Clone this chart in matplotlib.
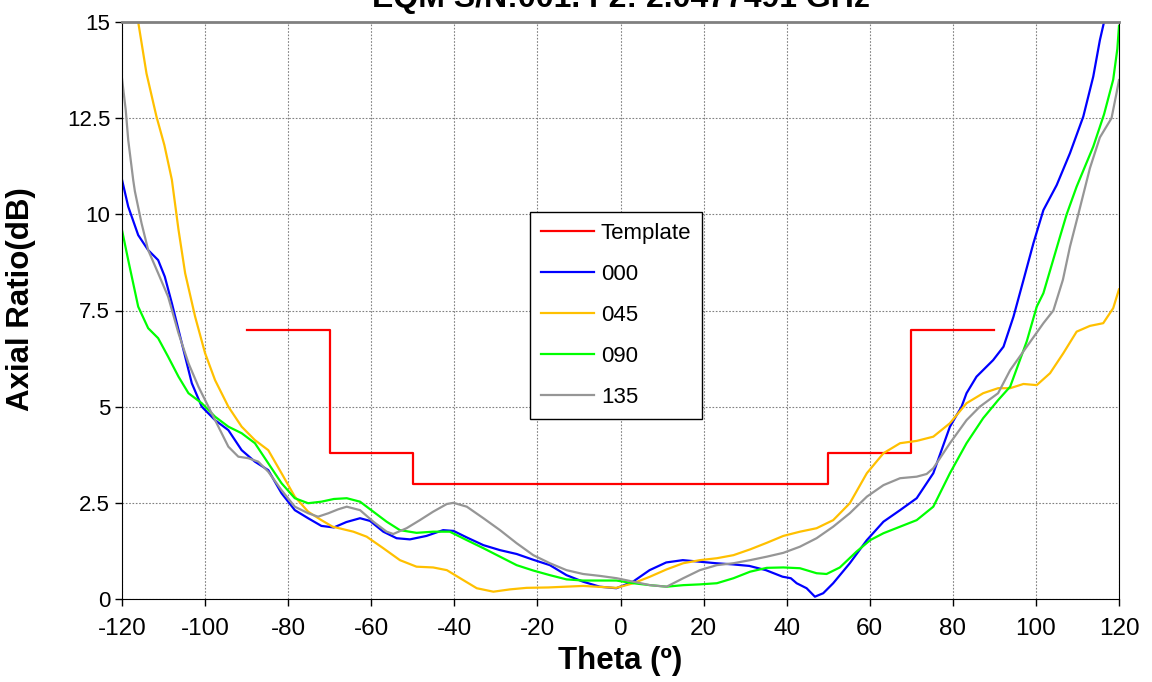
import matplotlib
matplotlib.use("Agg")
import matplotlib.pyplot as plt

plt.rcParams["font.family"] = ["Liberation Sans", "DejaVu Sans"]
plt.rcParams["axes.unicode_minus"] = False

TITLE = "EQM S/N:001. F2: 2.0477491 GHz"

# red template mask (step)
TPL_THETA = [-90, -70, -70, -50, -50, 50, 50, 70, 70, 90]
TPL_AR = [7.0, 7.0, 3.8, 3.8, 3.0, 3.0, 3.8, 3.8, 7.0, 7.0]

TH_000 = [-120, -118.5, -116.1, -113.7, -111.3, -109.7, -108.0, -105.6, -103.2, -100.8,
          -97.6, -94.4, -91.2, -88.0, -84.8, -81.6, -78.4, -75.2, -72.0, -69.0,
          -66.0, -62.7, -60.3, -57.1, -53.9, -50.7, -46.7, -42.7, -40.2, -37.0,
          -33.0, -29.0, -25.0, -21.0, -17.0, -13.0, -9.0, -5.0, -1.0, 3.0,
          7.0, 11.0, 15.0, 19.0, 23.0, 27.0, 31.0, 35.0, 39.0, 41.0,
          42.4, 44.8, 46.8, 48.8, 51.2, 55.2, 59.3, 63.3, 67.3, 71.3,
          75.3, 79.3, 82.1, 83.3, 85.7, 89.7, 92.2, 94.6, 97.0, 99.4,
          101.8, 105.0, 108.2, 111.4, 113.8, 115.4, 116.4, 117.0]
AR_000 = [10.9, 10.2, 9.46, 9.07, 8.81, 8.38, 7.69, 6.65, 5.61, 5.0,
          4.65, 4.39, 3.87, 3.57, 3.35, 2.75, 2.31, 2.1, 1.9, 1.86,
          2.0, 2.1, 2.03, 1.75, 1.58, 1.55, 1.64, 1.79, 1.77, 1.6,
          1.4, 1.27, 1.17, 1.02, 0.88, 0.62, 0.45, 0.32, 0.28, 0.45,
          0.75, 0.95, 1.01, 0.97, 0.93, 0.9, 0.86, 0.75, 0.58, 0.54,
          0.41, 0.28, 0.06, 0.15, 0.41, 0.93, 1.53, 2.01, 2.31, 2.62,
          3.27, 4.48, 5.0, 5.35, 5.78, 6.21, 6.56, 7.34, 8.29, 9.25,
          10.11, 10.76, 11.59, 12.54, 13.58, 14.53, 15.0, 15.4]

TH_045 = [-117.0, -116.1, -114.1, -111.7, -109.8, -108.0, -106.4, -104.8, -102.4,
          -100.0, -97.6, -94.4, -91.2, -88.0, -84.8, -81.6, -78.4, -75.2, -72.0,
          -69.3, -64.3, -61.1, -57.1, -53.1, -49.1, -45.1, -41.8, -38.6, -34.6,
          -30.6, -26.6, -22.6, -17.4, -9.0, -1.0, 3.1, 7.1, 11.1, 15.1,
          19.1, 23.2, 27.2, 31.2, 35.2, 39.2, 43.2, 47.2, 51.2, 55.2,
          59.3, 63.3, 67.3, 71.3, 75.3, 79.3, 83.3, 87.3, 90.9, 93.8,
          97.0, 100.2, 103.4, 106.6, 109.8, 113.0, 116.2, 118.6, 120.0]
AR_045 = [15.6, 15.0, 13.66, 12.54, 11.8, 10.9, 9.6, 8.47, 7.34,
          6.39, 5.69, 5.0, 4.48, 4.13, 3.87, 3.27, 2.66, 2.27, 2.05,
          1.88, 1.75, 1.62, 1.32, 1.01, 0.84, 0.82, 0.75, 0.54, 0.28,
          0.19, 0.25, 0.29, 0.3, 0.34, 0.29, 0.41, 0.58, 0.77, 0.93,
          1.01, 1.06, 1.14, 1.29, 1.46, 1.64, 1.75, 1.84, 2.05, 2.49,
          3.27, 3.79, 4.05, 4.11, 4.22, 4.57, 5.09, 5.35, 5.48, 5.48,
          5.59, 5.56, 5.87, 6.39, 6.95, 7.10, 7.17, 7.56, 8.05]

TH_090 = [-120, -118.5, -116.1, -113.7, -111.3, -108.9, -106.4, -104.0, -100.8, -97.6,
          -94.4, -91.2, -88.0, -84.8, -81.6, -78.4, -75.2, -72.0, -69.0, -65.9,
          -62.7, -59.5, -56.3, -53.1, -49.1, -45.1, -41.1, -37.0, -33.0, -29.0,
          -25.0, -21.0, -17.0, -13.0, -9.0, -1.0, 3.1, 7.1, 11.1, 15.1,
          19.1, 23.2, 27.2, 31.2, 35.2, 39.2, 43.2, 47.2, 49.6, 52.8,
          56.8, 60.1, 63.3, 67.3, 71.3, 75.3, 79.3, 83.3, 87.3, 90.9,
          93.8, 97.8, 100.2, 101.8, 105.8, 107.4, 109.8, 113.8, 116.4,
          118.6, 119.6, 120.0]
AR_090 = [9.59, 8.81, 7.6, 7.04, 6.78, 6.30, 5.78, 5.35, 5.09, 4.74,
          4.48, 4.31, 4.05, 3.53, 3.01, 2.62, 2.49, 2.53, 2.6, 2.62,
          2.53, 2.27, 2.01, 1.79, 1.72, 1.75, 1.75, 1.53, 1.32, 1.10,
          0.88, 0.74, 0.62, 0.51, 0.48, 0.48, 0.41, 0.36, 0.32, 0.36,
          0.38, 0.41, 0.54, 0.71, 0.81, 0.82, 0.80, 0.67, 0.65, 0.82,
          1.23, 1.53, 1.71, 1.88, 2.05, 2.40, 3.27, 4.05, 4.70, 5.17,
          5.52, 6.7, 7.6, 7.95, 9.42, 10.0, 10.72, 11.76, 12.6,
          13.5, 14.3, 14.9]

TH_135 = [-120, -119.1, -118.5, -117.3, -116.9, -115.3, -113.7, -111.3, -108.9, -106.4,
          -104.0, -101.6, -99.2, -96.8, -94.4, -92.0, -89.6, -87.2, -84.8, -81.6,
          -78.4, -75.2, -72.8, -70.3, -68.0, -65.9, -62.7, -59.5, -56.3, -54.7,
          -51.5, -48.3, -45.1, -41.8, -40.2, -37.0, -33.0, -29.0, -25.0, -21.0,
          -17.0, -13.0, -9.0, -4.9, -0.9, 3.1, 7.1, 11.1, 15.1, 19.1,
          23.2, 27.2, 31.2, 35.2, 39.2, 43.2, 47.2, 51.2, 55.2, 59.3,
          63.3, 67.3, 71.3, 73.7, 75.3, 79.3, 83.3, 86.5, 90.9, 93.8,
          97.8, 101.8, 104.2, 106.5, 108.2, 110.2, 113.0, 115.4, 118.2, 119.4,
          120.0]
AR_135 = [13.53, 12.71, 11.93, 10.89, 10.6, 9.77, 9.07, 8.47, 7.86, 6.91,
          6.13, 5.52, 5.0, 4.48, 3.96, 3.70, 3.66, 3.57, 3.31, 2.83,
          2.40, 2.23, 2.14, 2.23, 2.33, 2.40, 2.31, 2.01, 1.75, 1.69,
          1.84, 2.05, 2.27, 2.47, 2.50, 2.40, 2.10, 1.79, 1.45, 1.14,
          0.93, 0.75, 0.65, 0.60, 0.54, 0.45, 0.36, 0.32, 0.54, 0.75,
          0.88, 0.93, 1.01, 1.10, 1.20, 1.36, 1.58, 1.88, 2.23, 2.66,
          2.96, 3.14, 3.18, 3.25, 3.40, 4.05, 4.65, 5.0, 5.35, 5.95,
          6.56, 7.17, 7.5, 8.3, 9.16, 10.0, 11.2, 12.0, 12.5, 13.15,
          13.49]

SERIES = [("Template", TPL_THETA, TPL_AR, "#ff0000"),
          ("000", TH_000, AR_000, "#0000ff"),
          ("045", TH_045, AR_045, "#ffc000"),
          ("090", TH_090, AR_090, "#00ff00"),
          ("135", TH_135, AR_135, "#969696")]

fig = plt.figure(figsize=(11.52, 6.82), dpi=100)
ax = fig.add_axes([122 / 1152, 1 - 599 / 682, 997 / 1152, 577 / 682])

for lab, th, ar, col in SERIES:
    ax.plot(th, ar, color=col, lw=1.6, label=lab)

ax.set_xlim(-120, 120)
ax.set_ylim(0, 15)
ax.set_xticks(range(-120, 121, 20))
ax.set_yticks([0, 2.5, 5, 7.5, 10, 12.5, 15])
ax.set_yticklabels(["0", "2.5", "5", "7.5", "10", "12.5", "15"])
ax.tick_params(labelsize=16, direction="out", length=5, width=1, colors="black")
ax.tick_params(axis="x", labelsize=17.5, pad=9)
ax.grid(True, color="#808080", ls=(0, (1.5, 1.5)), lw=0.8)
for s in ("left", "bottom", "right"):
    ax.spines[s].set_color("black")
ax.spines["top"].set_color("#808080")
ax.spines["top"].set_linewidth(2)

ax.set_xlabel("Theta (º)", fontsize=22.5, fontweight="bold", labelpad=4)
ax.set_ylabel("Axial Ratio(dB)", fontsize=22.5, fontweight="bold")
ax.yaxis.set_label_coords(-0.086, 0.52)
fig.text(0.5387, 1 - 7 / 682, TITLE, ha="center", va="baseline", fontsize=23, fontweight="bold")

leg = ax.legend(loc="upper left", bbox_to_anchor=(0.409, 0.671), borderaxespad=0,
                fontsize=16, frameon=True, fancybox=False, edgecolor="black", framealpha=1,
                handlelength=2.4, labelspacing=0.9, borderpad=0.5, handletextpad=0.3)
leg.get_frame().set_linewidth(1.0)

fig.savefig("out.png", dpi=100)
